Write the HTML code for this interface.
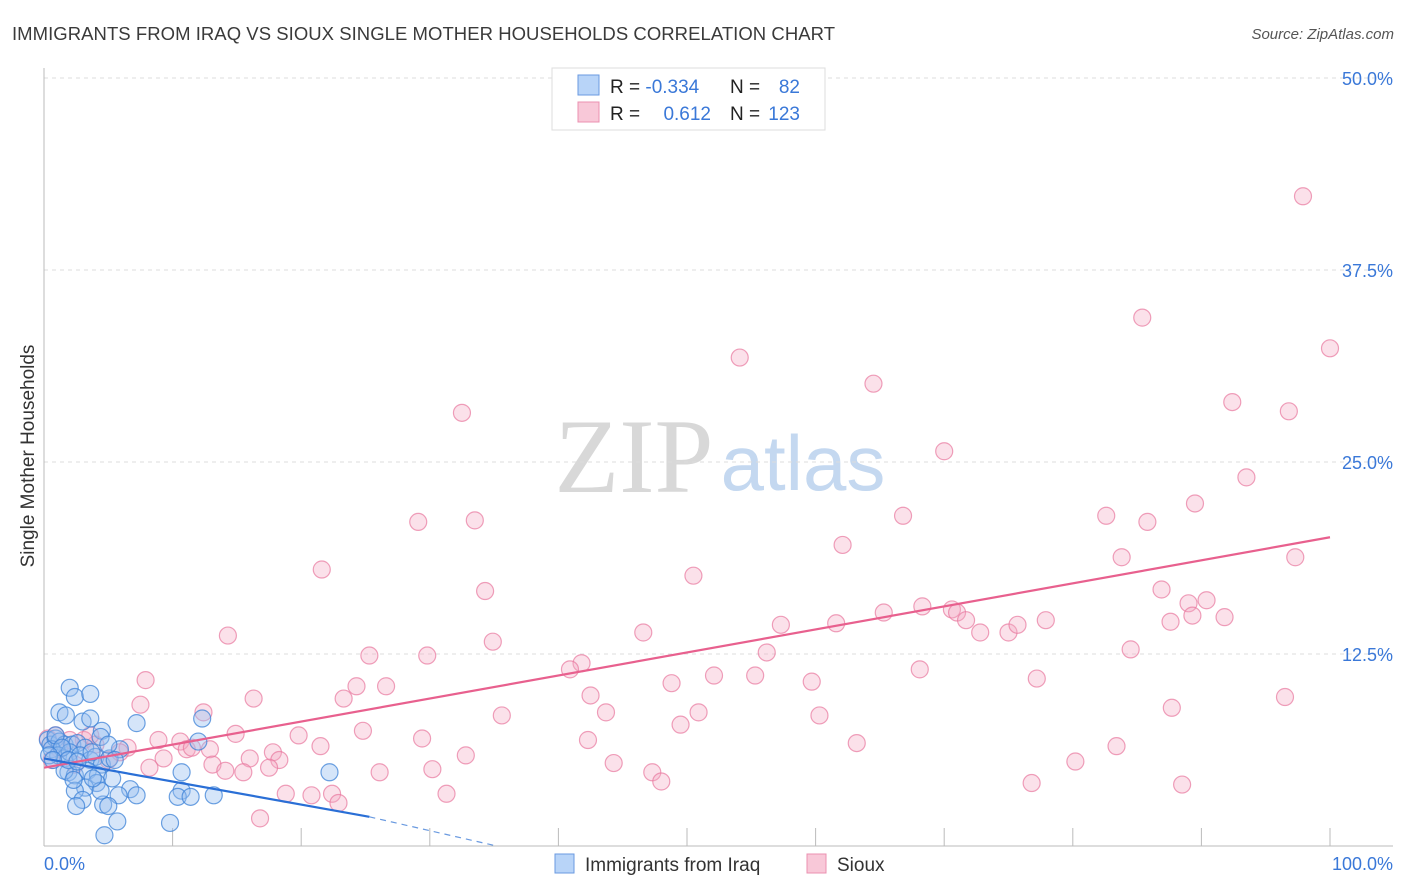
<!DOCTYPE html>
<html><head><meta charset="utf-8"><style>
body{margin:0;background:#fff;font-family:"Liberation Sans",sans-serif;}
#wrap{position:relative;width:1406px;height:892px;overflow:hidden;}
</style></head><body>
<div id="wrap">
<svg id="svg" width="1406" height="892" xmlns="http://www.w3.org/2000/svg">
<text x="12" y="40" font-size="18.5" fill="#3a3a3a" textLength="823">IMMIGRANTS FROM IRAQ VS SIOUX SINGLE MOTHER HOUSEHOLDS CORRELATION CHART</text>
<text x="1394" y="39" font-size="15" fill="#555" font-style="italic" text-anchor="end">Source: ZipAtlas.com</text>
<text x="34" y="456" font-size="19" fill="#333" text-anchor="middle" transform="rotate(-90 34 456)">Single Mother Households</text>
<g>
<text x="634" y="492" font-size="106" fill="#d8d8d8" font-family="Liberation Serif,serif" text-anchor="middle">ZIP</text>
<text x="803" y="490" font-size="78" fill="#c4d8f0" text-anchor="middle">atlas</text>
</g>
<g id="grid"></g>
<g id="axes"></g>
<g id="pts"></g>
<g id="trend"></g>
<g>
<rect x="552" y="68" width="273" height="62" fill="#fff" stroke="#ddd"/>
<rect x="578" y="75" width="21" height="20" fill="#b8d4f8" stroke="#6a9ae0"/>
<rect x="578" y="102" width="21" height="20" fill="#f8c8d8" stroke="#eb90b0"/>
<text x="610" y="93" font-size="19" fill="#222">R = <tspan fill="#3a78d8">-0.334</tspan></text>
<text x="730" y="93" font-size="19" fill="#222">N = </text><text x="800" y="93" font-size="19" fill="#3a78d8" text-anchor="end">82</text>
<text x="610" y="120" font-size="19" fill="#222">R = </text><text x="711" y="120" font-size="19" fill="#3a78d8" text-anchor="end">0.612</text>
<text x="730" y="120" font-size="19" fill="#222">N = </text><text x="800" y="120" font-size="19" fill="#3a78d8" text-anchor="end">123</text>
</g>
<g>
<rect x="555" y="854" width="19" height="19" fill="#b8d4f8" stroke="#6a9ae0"/>
<text x="585" y="871" font-size="19" fill="#333">Immigrants from Iraq</text>
<rect x="807" y="854" width="19" height="19" fill="#f8c8d8" stroke="#eb90b0"/>
<text x="837" y="871" font-size="19" fill="#333">Sioux</text>
</g>
<text x="44" y="870" font-size="18" fill="#3a78d8">0.0%</text>
<text x="1393" y="870" font-size="18" fill="#3a78d8" text-anchor="end">100.0%</text>
</svg>
</div>
<script>
const yTicks=[12.5,25,37.5,50];
const yTickLabels=["12.5%","25.0%","37.5%","50.0%"];
const xTicks=[10,20,30,40,50,60,70,80,90,100];
const siouxX=[97.9,85.4,54.1,100,64.5,32.5,92.4,96.8,70.0,93.5,29.1,33.5,66.8,82.6,85.8,89.5,21.6,62.1,83.8,97.3,50.5,34.3,86.9,89.0,90.4,89.3,91.8,87.6,65.3,68.3,70.6,71.0,71.7,72.8,75.0,75.7,77.9,46.6,57.3,61.6,14.3,34.9,25.3,29.8,56.2,84.5,41.8,40.9,68.1,52.1,55.3,59.7,48.8,77.2,7.9,24.3,26.6,42.5,16.3,23.3,96.5,7.5,43.7,87.7,12.4,35.6,60.3,50.9,49.5,14.9,19.8,24.8,29.4,8.9,10.6,42.3,63.2,83.4,11.1,12.9,11.5,6.5,21.5,17.8,5.9,32.8,18.3,16.0,13.1,9.3,8.2,44.3,80.2,26.1,30.2,14.1,15.5,17.5,47.3,48.0,76.8,88.5,18.8,20.8,22.4,22.9,31.3,16.8,5.0,4.0,3.1,2.0,1.2,0.9,3.6,2.4,0.3,0.6];
const siouxY=[42.3,34.4,31.8,32.4,30.1,28.2,28.9,28.3,25.7,24.0,21.1,21.2,21.5,21.5,21.1,22.3,18.0,19.6,18.8,18.8,17.6,16.6,16.7,15.8,16.0,15.0,14.9,14.6,15.2,15.6,15.4,15.2,14.7,13.9,13.9,14.4,14.7,13.9,14.4,14.5,13.7,13.3,12.4,12.4,12.6,12.8,11.9,11.5,11.5,11.1,11.1,10.7,10.6,10.9,10.8,10.4,10.4,9.8,9.6,9.6,9.7,9.2,8.7,9.0,8.7,8.5,8.5,8.7,7.9,7.3,7.2,7.5,7.0,6.9,6.8,6.9,6.7,6.5,6.3,6.3,6.4,6.4,6.5,6.1,6.1,5.9,5.6,5.7,5.3,5.7,5.1,5.4,5.5,4.8,5.0,4.9,4.8,5.1,4.8,4.2,4.1,4.0,3.4,3.3,3.4,2.8,3.4,1.8,5.6,6.6,6.9,6.9,6.3,7.2,7.2,5.3,7.0,5.6];
const iraqX=[2.0,2.4,3.6,1.2,3.0,3.6,1.7,7.2,12.3,4.5,4.4,12.0,0.3,0.5,0.9,1.2,1.6,2.2,2.6,3.2,0.6,1.1,1.6,2.0,2.8,3.6,4.0,4.5,5.1,1.9,2.4,1.6,3.4,4.2,5.3,4.1,3.2,2.4,6.7,7.2,10.7,10.4,11.4,13.2,5.8,3.0,2.5,4.6,5.0,5.7,4.7,9.8,22.2,10.7,0.9,1.4,1.9,2.6,3.7,5.9,0.4,0.7,5.0,5.5,4.4,3.8,2.3];
const iraqY=[10.3,9.7,9.9,8.7,8.1,8.3,8.5,8.0,8.3,7.5,7.1,6.8,6.9,6.6,7.0,6.8,6.6,6.6,6.7,6.4,6.3,5.9,5.7,6.1,5.9,5.6,5.8,5.3,5.7,4.8,4.6,4.9,4.9,4.6,4.4,4.1,3.8,3.6,3.7,3.3,3.6,3.2,3.2,3.3,3.3,3.0,2.6,2.7,2.6,1.6,0.7,1.5,4.8,4.8,7.2,6.4,5.6,5.5,6.1,6.3,5.9,5.6,6.6,5.6,3.6,4.4,4.3];
const siouxTrendX=[0,100], siouxTrendY=[5.1,20.1];
const iraqTrendX=[0,25.3], iraqTrendY=[5.7,1.9];
const iraqDashX=[25.3,35.2], iraqDashY=[1.9,0];

const NS="http://www.w3.org/2000/svg";
const X0=44,X1=1330,Y0=846,YS=15.36;
const sx=v=>X0+v*(X1-X0)/100;
const sy=v=>Y0-v*YS;
function mk(tag,attrs,parent){const e=document.createElementNS(NS,tag);for(const k in attrs)e.setAttribute(k,attrs[k]);document.getElementById(parent).appendChild(e);return e;}
yTicks.forEach((t,i)=>{
  const l=mk('line',{x1:44,x2:1393,y1:sy(t),y2:sy(t),stroke:'#ddd','stroke-dasharray':'4,4'},'grid');
  
  
  const tx=mk('text',{x:1393,y:sy(t)+7,'font-size':18,fill:'#3a78d8','text-anchor':'end'},'grid');
  tx.textContent=yTickLabels[i];
  
  
});
const ya=mk('line',{x1:44,x2:44,y1:68,y2:846,stroke:'#bbb'},'axes');


const xa=mk('line',{x1:44,x2:1393,y1:846,y2:846,stroke:'#bbb'},'axes');


xTicks.forEach(t=>{
  const l=mk('line',{x1:sx(t),x2:sx(t),y1:828,y2:846,stroke:'#bbb'},'axes');
  
  
});
siouxX.forEach((x,i)=>{
  const c=mk('circle',{cx:sx(x),cy:sy(siouxY[i]),r:8.5,fill:'rgba(244,170,195,0.35)',stroke:'rgba(232,120,158,0.7)','stroke-width':1.2},'pts');
  
  
});
iraqX.forEach((x,i)=>{
  const c=mk('circle',{cx:sx(x),cy:sy(iraqY[i]),r:8.5,fill:'rgba(150,190,240,0.4)',stroke:'rgba(60,130,215,0.75)','stroke-width':1.2},'pts');
  
  
});
const t1=mk('line',{x1:sx(siouxTrendX[0]),y1:sy(siouxTrendY[0]),x2:sx(siouxTrendX[1]),y2:sy(siouxTrendY[1]),stroke:'#e8608e','stroke-width':2.2},'trend');


const t2=mk('line',{x1:sx(iraqTrendX[0]),y1:sy(iraqTrendY[0]),x2:sx(iraqTrendX[1]),y2:sy(iraqTrendY[1]),stroke:'#2a6fd6','stroke-width':2.2},'trend');


const t3=mk('line',{x1:sx(iraqDashX[0]),y1:sy(iraqDashY[0]),x2:sx(iraqDashX[1]),y2:sy(iraqDashY[1]),stroke:'#6a9ae0','stroke-width':1.2,'stroke-dasharray':'6,5'},'trend');


</script>
</body></html>
